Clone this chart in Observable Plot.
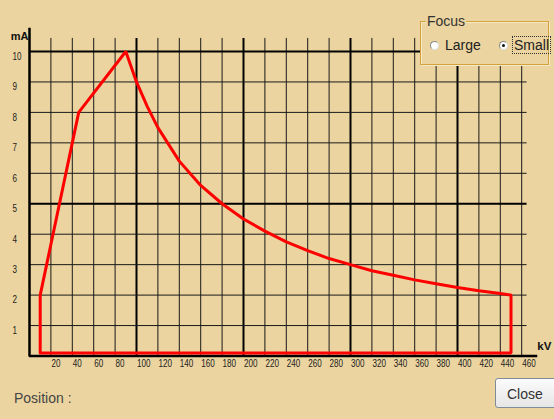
<!DOCTYPE html>
<html>
<head>
<meta charset="utf-8">
<script src="https://cdn.jsdelivr.net/npm/d3@7"></script>
<script src="https://cdn.jsdelivr.net/npm/@observablehq/plot@0.6"></script>
<style>
  html, body { margin: 0; padding: 0; }
  body { width: 554px; height: 419px; background: #EBD49F; position: relative; overflow: hidden;
         font-family: "Liberation Sans", Arial, sans-serif; }
  #chart { position: absolute; left: 0; top: 0; }
  #legend { position: absolute; left: 420px; top: 21px; width: 127px; height: 42px;
            border: 1px solid #D4A23A; box-shadow: inset 1px 1px 0 #F7E8C4, 1px 1px 0 #F7E8C4;
            background: #EBD49F; }
  #legend .title { position: absolute; left: 5px; top: -10px; font-size: 14px; color: #333;
                   background: #EBD49F; padding: 0 1px; line-height: 18px; }
  .radio { position: absolute; width: 7px; height: 7px; border-radius: 50%; background: #fff;
           border: 1px solid #8a8a8a; border-right-color: #ddd; border-bottom-color: #ddd; }
  .radio.on::after { content: ""; position: absolute; left: 2px; top: 2px; width: 3px; height: 3px;
                     border-radius: 50%; background: #111; }
  .rlabel { position: absolute; font-size: 14px; color: #222; line-height: 16px; }
  #pos { position: absolute; left: 14px; top: 389px; font-size: 14px; color: #444; line-height: 18px; }
  #close { position: absolute; left: 495px; top: 378px; width: 64px; height: 30px;
           border: 1px solid #7E8C9A; border-radius: 3px;
           background: linear-gradient(#FBFBFB, #E6E6E6); font-size: 14px; color: #333;
           line-height: 30px; padding-left: 11px; box-sizing: border-box; }
</style>
</head>
<body>
<div id="chart"></div>
<div id="legend">
  <div class="title">Focus</div>
</div>
<div id="pos">Position :</div>
<div id="close">Close</div>
<script>
// ---- data ----
const kV = [10, 10, 46, 90, 100, 110, 120, 140, 160, 180, 200, 220, 240, 260, 280, 300, 320, 340, 360, 380, 400, 420, 440, 450, 450, 10];
const mA = [0.1, 2, 8, 10, 9, 8.2, 7.5, 6.4, 5.6, 5, 4.5, 4.1, 3.75, 3.46, 3.2, 3, 2.8, 2.65, 2.5, 2.37, 2.25, 2.14, 2.05, 2, 0.1, 0.1];
const xTicks = [20, 40, 60, 80, 100, 120, 140, 160, 180, 200, 220, 240, 260, 280, 300, 320, 340, 360, 380, 400, 420, 440, 460];
const yTicks = [1, 2, 3, 4, 5, 6, 7, 8, 9, 10];
const xMajor = [100, 200, 300, 400];
const yMajor = [5, 10];
const xLabel = "kV";
const yLabel = "mA";
const focusOptions = ["Large", "Small"];
const focusSelected = "Small";

const curve = kV.map((k, i) => ({kV: k, mA: mA[i]}));
const tickFont = "'Liberation Sans', Arial, sans-serif";

const plot = Plot.plot({
  width: 554,
  height: 375,
  marginLeft: 29,
  marginRight: 32.8,
  marginTop: 51,
  marginBottom: 19.5,
  x: {domain: [0, 460], axis: null},
  y: {domain: [0, 10], axis: null},
  style: {background: "transparent", fontFamily: "'Liberation Sans', Arial, sans-serif"},
  marks: [
    // vertical grid
    Plot.ruleX(xTicks.filter(d => !xMajor.includes(d)), {y1: 0, y2: 10.43, stroke: "#1a1a1a", strokeWidth: 1}),
    Plot.ruleX(xMajor, {y1: 0, y2: 10.43, stroke: "#000", strokeWidth: 2}),
    // horizontal grid
    Plot.ruleY(yTicks.filter(d => !yMajor.includes(d)), {x1: 0, x2: 465, stroke: "#1a1a1a", strokeWidth: 1}),
    Plot.ruleY(yMajor, {x1: 0, x2: 465, stroke: "#000", strokeWidth: 2}),
    // axes
    Plot.ruleX([0], {y1: -0.03, y2: 10.76, stroke: "#000", strokeWidth: 2.5}),
    Plot.ruleY([0], {x1: 0, x2: 475, stroke: "#000", strokeWidth: 2.5}),
    // tick labels
    Plot.text(xTicks, {x: d => d, frameAnchor: "bottom", dy: 11, dx: 0.5, text: d => String(d),
      textAnchor: "start", fill: "#222", fontSize: 10.5, fontFamily: tickFont}),
    Plot.text(yTicks, {y: d => d, frameAnchor: "left", dx: -17, dy: 5, text: d => String(d),
      textAnchor: "start", fill: "#222", fontSize: 10.5, fontFamily: tickFont}),
    // axis labels
    Plot.text([yLabel], {x: 0, y: 10.5, dx: -1, dy: 0, text: d => d, textAnchor: "end",
      fontWeight: "bold", fontSize: 11, fill: "#111"}),
    Plot.text([xLabel], {x: 475, y: 0, dx: -0.5, dy: -10, text: d => d, textAnchor: "start",
      fontWeight: "bold", fontSize: 11.5, fill: "#111"}),
    // rating curve
    Plot.line(curve, {x: "kV", y: "mA", stroke: "#FF0000", strokeWidth: 3, strokeLinejoin: "miter"})
  ]
});
document.getElementById("chart").appendChild(plot);

// narrow the tick-label glyphs to match the condensed look of the original
const textGroups = d3.select(plot).selectAll("g[aria-label='text']").nodes();
[textGroups[0], textGroups[1]].forEach(g => {
  d3.select(g).selectAll("text").each(function () {
    const n = this.textContent.length;
    this.setAttribute("textLength", (n * 4.5).toFixed(1));
    this.setAttribute("lengthAdjust", "spacingAndGlyphs");
  });
});

// legend radios
const legend = document.getElementById("legend");
const radioX = [9, 78];
const labelX = [24, 93];
focusOptions.forEach((name, i) => {
  const r = document.createElement("div");
  r.className = "radio" + (name === focusSelected ? " on" : "");
  r.style.left = radioX[i] + "px";
  r.style.top = "19px";
  legend.appendChild(r);
  const l = document.createElement("div");
  l.className = "rlabel";
  l.textContent = name;
  l.style.left = labelX[i] + "px";
  l.style.top = "15px";
  if (name === focusSelected) {
    l.style.outline = "1px dotted #333";
    l.style.outlineOffset = "0px";
    l.style.padding = "0 1px";
    l.style.left = (labelX[i] - 1) + "px";
  }
  legend.appendChild(l);
});
</script>
</body>
</html>
